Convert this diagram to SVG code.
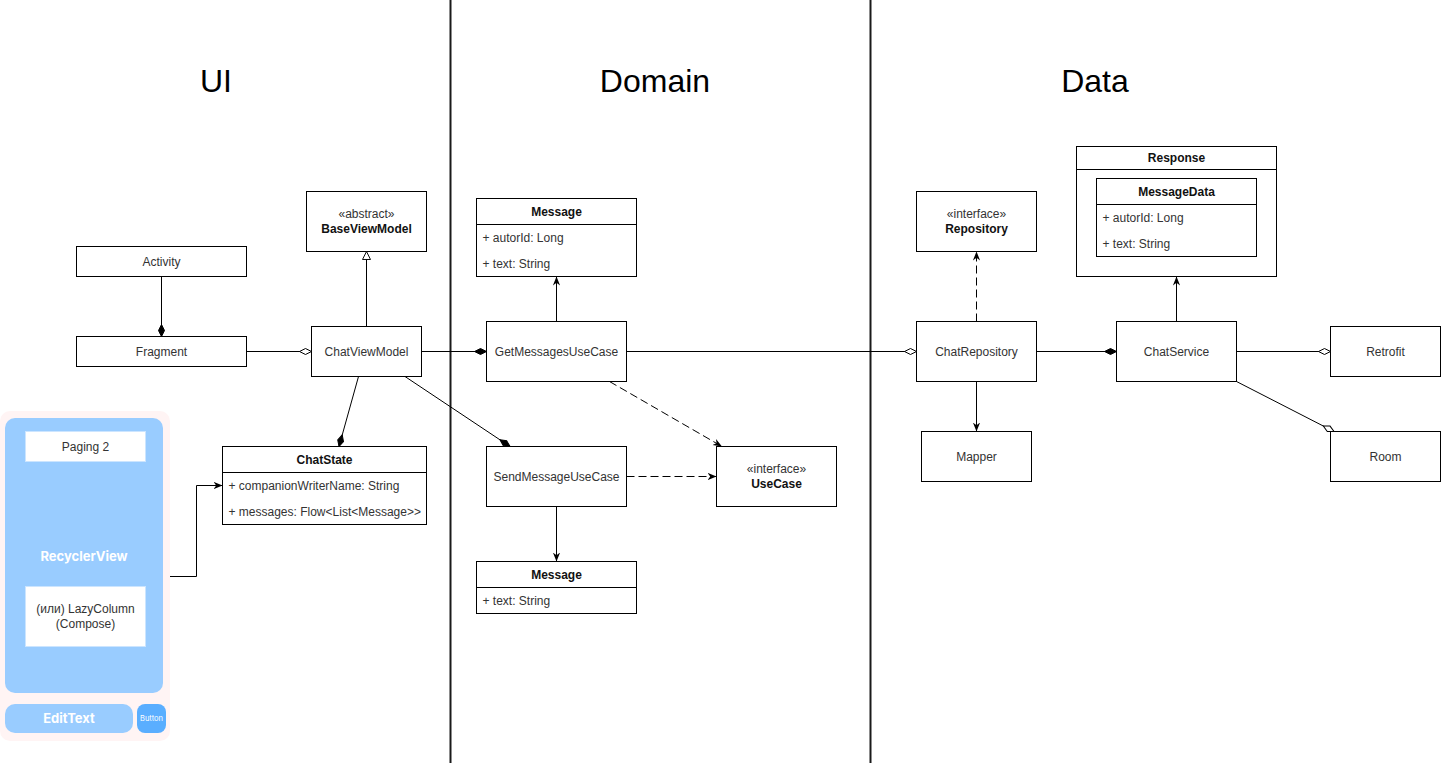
<svg xmlns="http://www.w3.org/2000/svg" width="1441" height="763" viewBox="0 0 1441 763">
<style>
.box{fill:#fff;stroke:#000;stroke-width:1}
.t{font-family:"Liberation Sans",Arial,sans-serif;font-size:12px;fill:#333;text-anchor:middle}
.b{font-weight:bold;fill:#111}
.a{font-family:"Liberation Sans",Arial,sans-serif;font-size:12px;fill:#333;text-anchor:start}
.h{font-family:"Liberation Sans",Arial,sans-serif;font-size:32px;fill:#000;text-anchor:middle}
.sep{stroke:#1a1a1a;stroke-width:2}
.c{fill:none;stroke:#000;stroke-width:1}
.d{stroke-dasharray:8 4}
.p{font-family:Inter,"Liberation Sans",sans-serif;text-anchor:middle}
</style>
<defs>
<marker id="arrow" viewBox="0 0 10 10" refX="10" refY="5" markerWidth="9" markerHeight="9" orient="auto" markerUnits="userSpaceOnUse"><path d="M0,1 L10,5 L0,9 L3,5 z" fill="#000"/></marker>
<marker id="dfill" viewBox="-1 -1 14 8" refX="12" refY="3" markerWidth="14" markerHeight="8" orient="auto" markerUnits="userSpaceOnUse"><path d="M0,3 L6,0 L12,3 L6,6 z" fill="#000" stroke="#000"/></marker>
<marker id="dopen" viewBox="-1 -1 14 8" refX="12" refY="3" markerWidth="14" markerHeight="8" orient="auto" markerUnits="userSpaceOnUse"><path d="M0,3 L6,0 L12,3 L6,6 z" fill="#fff" stroke="#000"/></marker>
<marker id="tri" viewBox="-1 -1 12 12" refX="10" refY="5" markerWidth="9.6" markerHeight="9.6" orient="auto" markerUnits="userSpaceOnUse"><path d="M0,0 L10,5 L0,10 z" fill="#fff" stroke="#000" stroke-width="1.2"/></marker>
</defs>
<rect width="1441" height="763" fill="#fff"/>

<g id="headers">
<text class="h" x="216" y="92">UI</text>
<text class="h" x="655" y="92">Domain</text>
<text class="h" x="1095" y="92">Data</text>
<line class="sep" x1="450.5" y1="0" x2="450.5" y2="763"/>
<line class="sep" x1="870.5" y1="0" x2="870.5" y2="763"/>
</g>

<g id="phone">
<rect x="0" y="411" width="170" height="330" rx="10" fill="#FFF4F4"/>
<rect x="5" y="418" width="158" height="275" rx="10" fill="#99CCFF"/>
<rect x="25.5" y="431.5" width="120" height="30" fill="#fff" stroke="#CCE5FF"/>
<text class="t" x="85.5" y="450.5">Paging 2</text>
<text class="p" x="84" y="560.5" font-size="13" font-weight="bold" fill="#fff">RecyclerView</text>
<rect x="25.5" y="586.5" width="120" height="60" fill="#fff" stroke="#CCE5FF"/>
<text class="t" x="85.5" y="612.5">(или) LazyColumn</text>
<text class="t" x="85.5" y="627.5">(Compose)</text>
<rect x="5" y="704" width="128" height="29" rx="10" fill="#99CCFF"/>
<text class="p" x="69" y="723" font-size="13" font-weight="bold" fill="#fff">EditText</text>
<rect x="137" y="704" width="29" height="29" rx="8" fill="#5AAEFF"/>
<text class="p" x="151.5" y="721" font-size="7.5" fill="#fff">Button</text>
</g>

<g id="activity"><rect class="box" x="76.5" y="246.5" width="170" height="30"/><text class="t" x="161.5" y="265.5">Activity</text></g>
<g id="fragment"><rect class="box" x="76.5" y="336.5" width="170" height="30"/><text class="t" x="161.5" y="355.5">Fragment</text></g>
<g id="baseviewmodel"><rect class="box" x="306.5" y="191.5" width="120" height="60"/><text class="t" x="366.5" y="218">«abstract»</text><text class="t b" x="366.5" y="233">BaseViewModel</text></g>
<g id="chatviewmodel"><rect class="box" x="311.5" y="326.5" width="110" height="50"/><text class="t" x="366.5" y="355.5">ChatViewModel</text></g>
<g id="chatstate"><rect class="box" x="222.5" y="446.5" width="204" height="78"/><line class="c" x1="222.5" y1="472.5" x2="426.5" y2="472.5"/><text class="t b" x="324.5" y="463.5">ChatState</text><text class="a" x="228.5" y="489.5">+ companionWriterName: String</text><text class="a" x="228.5" y="515.5">+ messages: Flow&lt;List&lt;Message&gt;&gt;</text></g>

<g id="message1"><rect class="box" x="476.5" y="198.5" width="160" height="78"/><line class="c" x1="476.5" y1="224.5" x2="636.5" y2="224.5"/><text class="t b" x="556.5" y="215.5">Message</text><text class="a" x="482.5" y="241.5">+ autorId: Long</text><text class="a" x="482.5" y="267.5">+ text: String</text></g>
<g id="getmessages"><rect class="box" x="486.5" y="321.5" width="140" height="60"/><text class="t" x="556.5" y="355.5">GetMessagesUseCase</text></g>
<g id="sendmessage"><rect class="box" x="486.5" y="446.5" width="140" height="60"/><text class="t" x="556.5" y="480.5">SendMessageUseCase</text></g>
<g id="usecase"><rect class="box" x="716.5" y="446.5" width="120" height="60"/><text class="t" x="776.5" y="472.5">«interface»</text><text class="t b" x="776.5" y="487.5">UseCase</text></g>
<g id="message2"><rect class="box" x="476.5" y="561.5" width="160" height="52"/><line class="c" x1="476.5" y1="587.5" x2="636.5" y2="587.5"/><text class="t b" x="556.5" y="578.5">Message</text><text class="a" x="482.5" y="604.5">+ text: String</text></g>

<g id="repository"><rect class="box" x="916.5" y="191.5" width="120" height="60"/><text class="t" x="976.5" y="218">«interface»</text><text class="t b" x="976.5" y="233">Repository</text></g>
<g id="chatrepository"><rect class="box" x="916.5" y="321.5" width="120" height="60"/><text class="t" x="976.5" y="355.5">ChatRepository</text></g>
<g id="mapper"><rect class="box" x="921.5" y="431.5" width="110" height="50"/><text class="t" x="976.5" y="460.5">Mapper</text></g>
<g id="response"><rect class="box" x="1076.5" y="146.5" width="200" height="130"/><line class="c" x1="1076.5" y1="169.5" x2="1276.5" y2="169.5"/><text class="t b" x="1176.5" y="162">Response</text></g>
<g id="messagedata"><rect class="box" x="1096.5" y="178.5" width="160" height="78"/><line class="c" x1="1096.5" y1="204.5" x2="1256.5" y2="204.5"/><text class="t b" x="1176.5" y="195.5">MessageData</text><text class="a" x="1102.5" y="221.5">+ autorId: Long</text><text class="a" x="1102.5" y="247.5">+ text: String</text></g>
<g id="chatservice"><rect class="box" x="1116.5" y="321.5" width="120" height="60"/><text class="t" x="1176.5" y="355.5">ChatService</text></g>
<g id="retrofit"><rect class="box" x="1330.5" y="326.5" width="110" height="50"/><text class="t" x="1385.5" y="355.5">Retrofit</text></g>
<g id="room"><rect class="box" x="1330.5" y="431.5" width="110" height="50"/><text class="t" x="1385.5" y="460.5">Room</text></g>

<g id="connectors">
<path class="c" d="M170,576.5 H196.5 V485.5 H222.5" marker-end="url(#arrow)"/>
<path class="c" d="M161.5,276.5 V336.5" marker-end="url(#dfill)"/>
<path class="c" d="M246.5,351.5 H311.5" marker-end="url(#dopen)"/>
<path class="c" d="M366.5,326.5 V251.5" marker-end="url(#tri)"/>
<path class="c" d="M358.5,376.5 L339,446.5" marker-end="url(#dfill)"/>
<path class="c" d="M421.5,351.5 H486.5" marker-end="url(#dfill)"/>
<path class="c" d="M405,376.5 L510,446.5" marker-end="url(#dfill)"/>
<path class="c" d="M556.5,321.5 V276.5" marker-end="url(#arrow)"/>
<path class="c d" d="M609.5,381.5 L722,446.5" marker-end="url(#arrow)"/>
<path class="c d" d="M626.5,476.5 H716.5" marker-end="url(#arrow)"/>
<path class="c" d="M556.5,506.5 V561.5" marker-end="url(#arrow)"/>
<path class="c" d="M626.5,351.5 H916.5" marker-end="url(#dopen)"/>
<path class="c d" d="M976.5,321.5 V251.5" marker-end="url(#arrow)"/>
<path class="c" d="M976.5,381.5 V431.5" marker-end="url(#arrow)"/>
<path class="c" d="M1036.5,351.5 H1116.5" marker-end="url(#dfill)"/>
<path class="c" d="M1176.5,321.5 V276.5" marker-end="url(#arrow)"/>
<path class="c" d="M1236.5,351.5 H1330.5" marker-end="url(#dopen)"/>
<path class="c" d="M1236.5,381.5 L1334,431.5" marker-end="url(#dopen)"/>
</g>
</svg>
